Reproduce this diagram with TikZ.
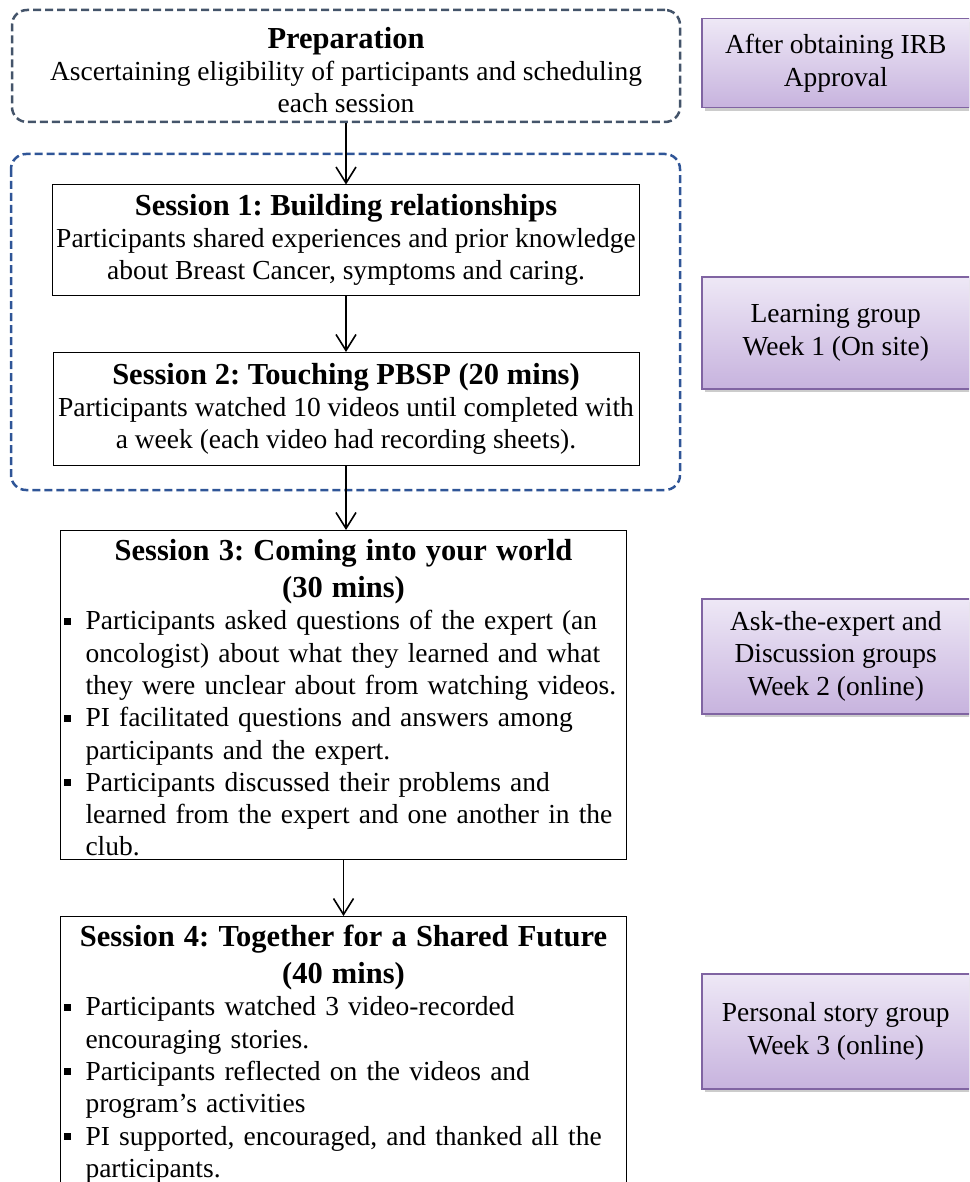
\documentclass[tikz,border=0pt]{standalone}
\usepackage{fontspec}
\setmainfont{Liberation Serif}
\usetikzlibrary{arrows.meta, shadows}

\definecolor{prepgray}{HTML}{44546A}
\definecolor{frameblue}{HTML}{2F5597}
\definecolor{phaseline}{HTML}{8064A2}
\definecolor{phasetop}{HTML}{EEE8F6}
\definecolor{phasebot}{HTML}{C7B3DE}

\newcommand{\bodyfont}{\fontsize{27.5}{32.3}\selectfont\frenchspacing}
\newcommand{\headfont}{\fontsize{30.5}{37}\selectfont\bfseries}
\newcommand{\sqitem}[1]{\par\noindent\hangindent=22pt\hangafter=1%
  \makebox[22pt][l]{\raisebox{5pt}{\rule{7pt}{7pt}}}#1}

\tikzset{
  session/.style={draw, line width=1pt, minimum width=586pt, align=center, font=\bodyfont},
  listbox/.style={draw, line width=1pt, anchor=north west, inner xsep=3pt, inner ysep=3pt,
    text width=560pt, align=left, font=\bodyfont},
  phase/.style={draw=phaseline, line width=1.5pt, top color=phasetop, bottom color=phasebot,
    drop shadow={shadow xshift=3pt, shadow yshift=-3pt, opacity=0.4},
    minimum width=268pt, anchor=north west, align=center, font=\bodyfont},
  groupline/.style={dash pattern=on 8pt off 4pt, line width=2.5pt, rounded corners=15pt},
  flow/.style={-{Straight Barb[length=16pt, width=20pt]}, line width=1.6pt}
}

\begin{document}
\begin{tikzpicture}[x=1pt, y=-1pt]
\clip (0,0) rectangle (969,1182);

% left column
\node[draw=prepgray, groupline, minimum width=668pt, minimum height=112pt,
  align=center, font=\bodyfont] (prep) at (346,66)
  {{\headfont\rule{0pt}{29pt}Preparation}\\Ascertaining eligibility of participants and scheduling\\each session};
\draw[frameblue, groupline] (11,154) rectangle (680,490);

\node[session, minimum height=110pt] (s1) at (346,240)
  {{\headfont Session 1: Building relationships}\\Participants shared experiences and prior knowledge\\about Breast Cancer, symptoms and caring.};
\node[session, minimum height=113pt] (s2) at (346,409)
  {{\headfont Session 2: Touching PBSP (20 mins)}\\Participants watched 10 videos until completed with\\a week (each video had recording sheets).};

\node[listbox] (s3) at (60,530)
  {{\centering\headfont\rule{0pt}{27pt}Session 3: Coming into your world\\(30 mins)\par}
   \sqitem{Participants asked questions of the expert (an\newline oncologist) about what they learned and what\newline they were unclear about from watching videos.}
   \sqitem{PI facilitated questions and answers among\newline participants and the expert.}
   \sqitem{Participants discussed their problems and\newline learned from the expert and one another in the\newline club.}\par};
\node[listbox] (s4) at (60,916)
  {{\centering\headfont\rule{0pt}{27pt}Session 4: Together for a Shared Future\\(40 mins)\par}
   \sqitem{Participants watched 3 video-recorded\newline encouraging stories.}
   \sqitem{Participants reflected on the videos and\newline program's activities}
   \sqitem{PI supported, encouraged, and thanked all the\newline participants.}\par\vspace*{20pt}};

\draw[flow] (prep.south) -- (s1.north);
\draw[flow] (s1) -- (s2);
\draw[flow] (s2.south) -- (s2.south |- s3.north);
\draw[flow] (s3.south) -- (s4.north);

% right column
\node[phase, minimum height=89pt] (irb) at (701,18) {After obtaining IRB\\Approval};
\node[phase, minimum height=112pt] (learn) at (701,276) {Learning group\\Week 1 (On site)};
\node[phase, minimum height=115pt] (ask) at (701,598) {Ask-the-expert and\\Discussion groups\\Week 2 (online)};
\node[phase, minimum height=115pt] (story) at (701,973) {Personal story group\\Week 3 (online)};
\end{tikzpicture}
\end{document}
